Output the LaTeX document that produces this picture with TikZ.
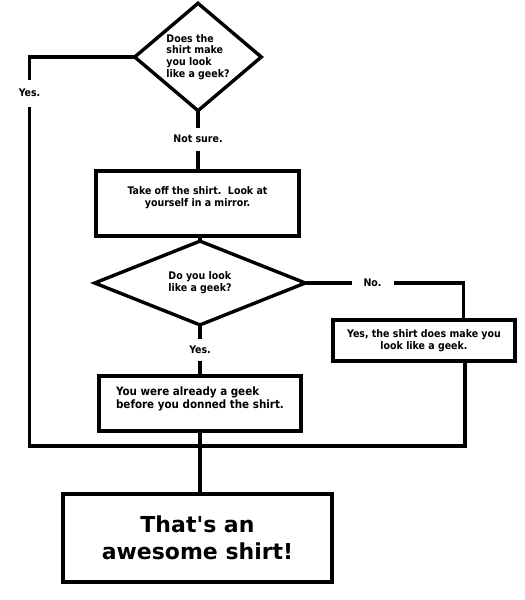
\documentclass[tikz,border=0pt]{standalone}
\usepackage{fontspec}
\setmainfont{DejaVu Sans}[Ligatures=TeXOff]
\newfontfamily\condfont{DejaVu Sans Condensed}[Ligatures=TeXOff]
\usetikzlibrary{shapes.geometric}
\tikzset{
  x=1pt, y=-1pt,
  conn/.style={line width=3.4pt, line join=miter, line cap=rect},
  decision/.style={diamond, draw, line width=3.4pt, inner sep=0pt, align=left, font=\condfont\bfseries\fontsize{10.5}{11.8}\selectfont},
  stepbox/.style={rectangle, draw, line width=3.6pt, inner sep=0pt, font=\condfont\bfseries\fontsize{10.5}{12.5}\selectfont},
  lab/.style={inner sep=0pt, font=\condfont\bfseries\fontsize{10.5}{12.5}\selectfont},
}
\begin{document}
\begin{tikzpicture}
\useasboundingbox (0,0) rectangle (525,600);
% nodes
\node[decision, minimum width=128pt, minimum height=107pt] (d1) at (198,57)
  {Does the\\shirt make\\you look\\like a geek?};
\node[lab, minimum height=26pt] (lns) at (198,139) {Not sure.};
\node[stepbox, align=center, minimum width=203pt, minimum height=65pt, text depth=14pt] (b1) at (197.5,203.5)
  {Take off the shirt.\ \ Look at\\yourself in a mirror.};
\node[decision, minimum width=212pt, minimum height=67pt] (d2) at (200,283)
  {Do you look\\like a geek?};
\node[lab, minimum width=45pt] (lno) at (372.5,283) {No.};
\node[stepbox, align=center, minimum width=182pt, minimum height=41pt] (b3) at (424,340.5)
  {Yes, the shirt does make you\\look like a geek.};
\node[lab, minimum height=25pt] (ly2) at (200,349.5) {Yes.};
\node[stepbox, align=left, minimum width=202pt, minimum height=55pt, text depth=12pt,
  font=\condfont\bfseries\fontsize{11.5}{13}\selectfont] (b2) at (200,403.5)
  {You were already a geek\\before you donned the shirt.};
\node[lab, minimum height=30pt] (ly1) at (29.5,93) {Yes.};
\node[stepbox, align=center, minimum width=269pt, minimum height=88pt,
  font=\bfseries\fontsize{22}{26.6}\selectfont] (b4) at (197.5,538)
  {That's an\\awesome shirt!};
\coordinate (jl) at (29.5,446);
\coordinate (jr) at (465,446);
\coordinate (tr) at (463.5,283);
% connectors
\draw[conn] (d1.west) -| (ly1.north);
\draw[conn] (ly1.south) -- (jl) -- (jr);
\draw[conn] (d1.south) -- (lns.north);
\draw[conn] (lns.south) -- (b1.north -| lns.south);
\draw[conn] (b1.south -| d2.north) -- (d2.north);
\draw[conn] (d2.east) -- (lno.west);
\draw[conn] (lno.east) -- (tr) -- (b3.north -| tr);
\draw[conn] (b3.south -| jr) -- (jr);
\draw[conn] (d2.south) -- (ly2.north);
\draw[conn] (ly2.south) -- (b2.north -| ly2.south);
\draw[conn] (b2.south) -- (b2.south |- b4.north);
\end{tikzpicture}
\end{document}
